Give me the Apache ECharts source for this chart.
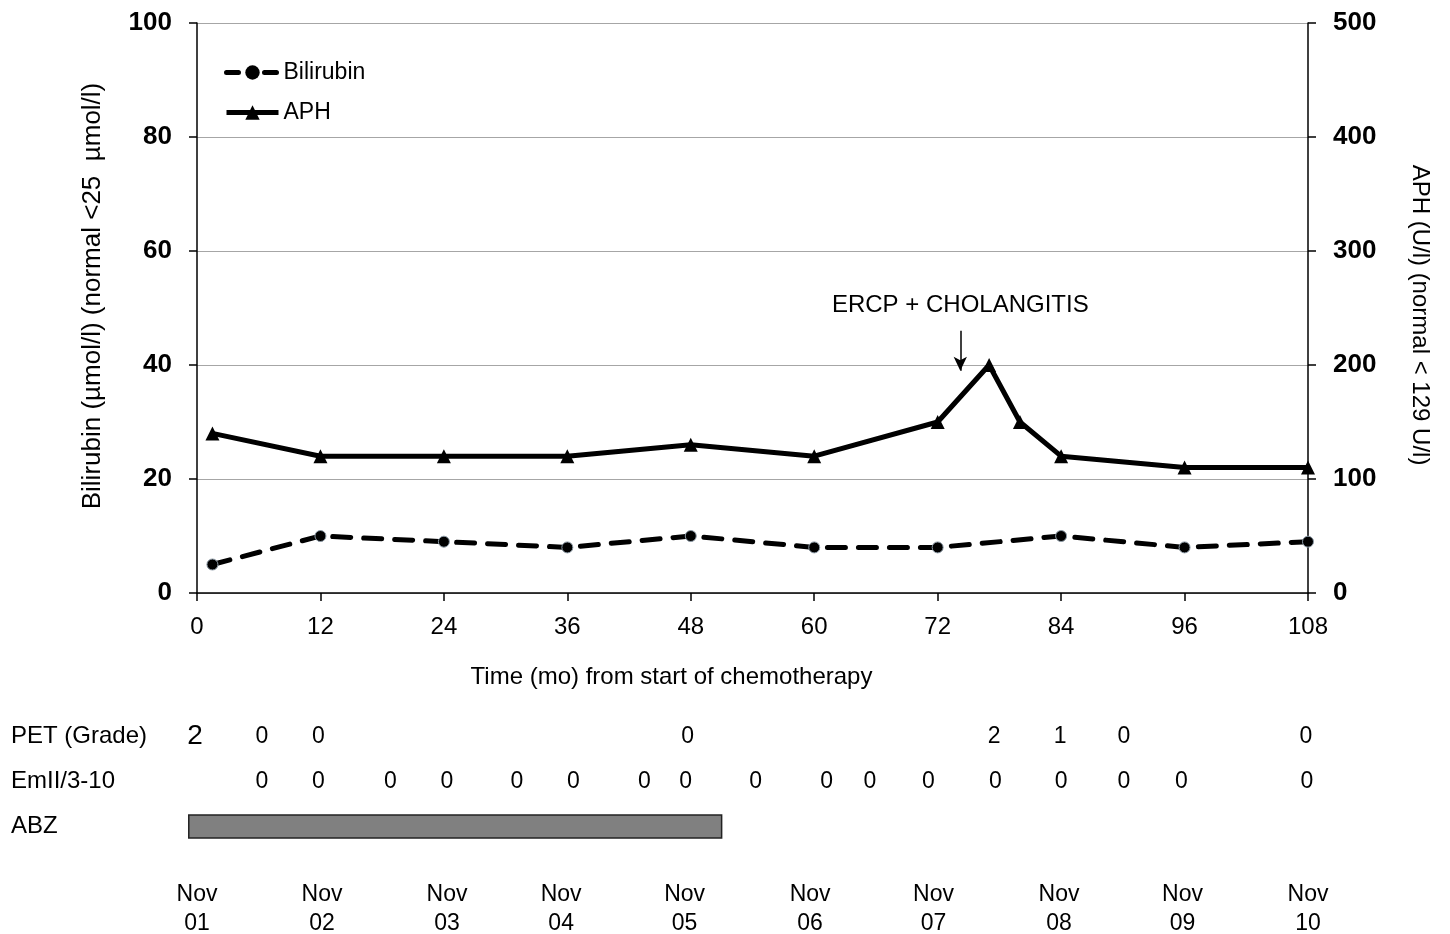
<!DOCTYPE html>
<html>
<head>
<meta charset="utf-8">
<script src="https://cdn.jsdelivr.net/npm/echarts@6/dist/echarts.min.js"></script>
<style>
  html, body { margin: 0; padding: 0; background: #fff; }
  #main { width: 1450px; height: 934px; }
</style>
</head>
<body>
<div id="main"></div>
<script>
// ---- data ----
var bilMonths = [1.5, 12, 24, 36, 48, 60, 72, 84, 96, 108];
var bilValues = [5, 10, 9, 8, 10, 8, 8, 10, 8, 9];

var aphMonths = [1.5, 12, 24, 36, 48, 60, 72, 77, 80, 84, 96, 108];
var aphValues = [140, 120, 120, 120, 130, 120, 150, 200, 150, 120, 110, 110];

var petMonths = [-0.2, 6.3, 11.8, 47.7, 77.5, 83.9, 90.1, 107.8];
var petGrades = [2, 0, 0, 0, 2, 1, 0, 0];

var emMonths = [6.3, 11.8, 18.8, 24.3, 31.1, 36.6, 43.5, 47.5, 54.3, 61.2, 65.4, 71.1, 77.6, 84.0, 90.1, 95.7, 107.9];
var emValues = [0, 0, 0, 0, 0, 0, 0, 0, 0, 0, 0, 0, 0, 0, 0, 0, 0];

var abzStart = -0.8;
var abzEnd = 51.0;

var dateMonths = [0, 12.15, 24.3, 35.4, 47.4, 59.6, 71.6, 83.8, 95.8, 108];
var dateLabels = ['Nov\n01', 'Nov\n02', 'Nov\n03', 'Nov\n04', 'Nov\n05', 'Nov\n06', 'Nov\n07', 'Nov\n08', 'Nov\n09', 'Nov\n10'];

var rowNames = ['PET (Grade)', 'EmII/3-10', 'ABZ'];

var ercpMonth = 74.2;
var ercpFrom = 46;
var ercpTo = 39;

var FONT = 'Liberation Sans, Arial, sans-serif';

function zip(xs, ys) {
  var out = [];
  for (var i = 0; i < xs.length; i++) out.push([xs[i], ys[i]]);
  return out;
}

var petData = [];
for (var i = 0; i < petMonths.length; i++) {
  var item = { value: [petMonths[i], rowNames[0], petGrades[i]] };
  if (i === 0) item.label = { fontSize: 28 }; // first grade is printed larger
  petData.push(item);
}
var emData = [];
for (var j = 0; j < emMonths.length; j++) {
  emData.push({ value: [emMonths[j], rowNames[1], emValues[j]] });
}

var rowLabel = {
  show: true,
  position: 'inside',
  fontSize: 23,
  color: '#000',
  opacity: 1,
  textBorderWidth: 0,
  fontFamily: FONT,
  formatter: function (p) { return String(p.value[2]); }
};

var myChart = echarts.init(document.getElementById('main'), null, { renderer: 'canvas' });

var option = {
  backgroundColor: '#fff',
  animation: false,
  textStyle: { fontFamily: FONT, color: '#000' },
  legend: {
    orient: 'vertical',
    left: 219,
    top: 56,
    itemGap: 17,
    itemWidth: 52,
    itemHeight: 18,
    textStyle: { fontSize: 23, color: '#000', fontFamily: FONT },
    data: [
      { name: 'Bilirubin', lineStyle: { width: 5, type: [12, 26], color: '#000' }, itemStyle: { color: '#000', borderWidth: 0 } },
      { name: 'APH', lineStyle: { width: 5, type: 'solid', color: '#000' }, itemStyle: { color: '#000' } }
    ]
  },
  grid: [
    { left: 197, right: 142, top: 23, height: 570, outerBoundsMode: 'none' },
    { left: 197, right: 142, top: 714, height: 135, outerBoundsMode: 'none' }
  ],
  xAxis: [
    {
      gridIndex: 0,
      type: 'value',
      min: 0,
      max: 108,
      interval: 12,
      name: 'Time (mo) from start of chemotherapy',
      nameLocation: 'middle',
      nameGap: 72,
      nameTextStyle: { fontSize: 24, color: '#000', padding: [0, 162, 0, 0] },
      axisLine: { lineStyle: { color: '#000', width: 1.5 } },
      axisTick: { show: true, length: 8, lineStyle: { color: '#000', width: 1.5 } },
      axisLabel: { fontSize: 24, color: '#000', margin: 22 },
      splitLine: { show: false }
    },
    {
      gridIndex: 1,
      type: 'value',
      min: 0,
      max: 108,
      axisLine: { show: false },
      axisTick: { show: false },
      splitLine: { show: false },
      axisLabel: {
        show: true,
        customValues: dateMonths,
        fontSize: 23,
        lineHeight: 29,
        color: '#000',
        margin: 31,
        formatter: function (v) {
          for (var k = 0; k < dateMonths.length; k++) {
            if (Math.abs(dateMonths[k] - v) < 0.01) return dateLabels[k];
          }
          return '';
        }
      }
    }
  ],
  yAxis: [
    {
      gridIndex: 0,
      type: 'value',
      min: 0,
      max: 100,
      interval: 20,
      name: 'Bilirubin (\u00b5mol/l) (normal <25  \u00b5mol/l)',
      nameLocation: 'middle',
      nameGap: 91,
      nameTextStyle: { fontSize: 26, color: '#000', padding: [0, 0, 0, 24] },
      axisLine: { show: true, lineStyle: { color: '#000', width: 1.5 } },
      axisTick: { show: true, length: 8, lineStyle: { color: '#000', width: 1.5 } },
      axisLabel: { fontSize: 26, fontWeight: 'bold', color: '#000', margin: 25 },
      splitLine: { show: true, lineStyle: { color: '#a6a6a6', width: 1.2 } }
    },
    {
      gridIndex: 0,
      type: 'value',
      position: 'right',
      min: 0,
      max: 500,
      interval: 100,
      name: 'APH (U/l) (normal < 129 U/l)',
      nameLocation: 'middle',
      nameGap: 100,
      nameRotate: -90,
      nameTextStyle: { fontSize: 24, color: '#000', padding: [0, 0, 0, 14] },
      axisLine: { show: true, lineStyle: { color: '#000', width: 1.5 } },
      axisTick: { show: true, length: 8, lineStyle: { color: '#000', width: 1.5 } },
      axisLabel: { fontSize: 26, fontWeight: 'bold', color: '#000', margin: 25 },
      splitLine: { show: false }
    },
    {
      gridIndex: 1,
      type: 'category',
      inverse: true,
      data: rowNames,
      axisLine: { show: false },
      axisTick: { show: false },
      axisLabel: { fontSize: 24, color: '#000', align: 'left', margin: 186 }
    }
  ],
  series: [
    {
      name: 'Bilirubin',
      type: 'line',
      xAxisIndex: 0,
      yAxisIndex: 0,
      data: zip(bilMonths, bilValues),
      symbol: 'circle',
      symbolSize: 11,
      itemStyle: { color: '#000', borderColor: '#8c9aa6', borderWidth: 1 },
      lineStyle: { color: '#000', width: 5, type: [18, 13], cap: 'round' },
      z: 3,
      markLine: {
        silent: true,
        symbol: ['none', 'arrow'],
        symbolSize: [10, 14],
        lineStyle: { color: '#000', width: 1.5, type: 'solid' },
        label: {
          show: true,
          position: 'start',
          formatter: 'ERCP + CHOLANGITIS',
          fontSize: 24,
          color: '#000',
          fontFamily: FONT,
          distance: 13
        },
        data: [[{ coord: [ercpMonth, ercpFrom] }, { coord: [ercpMonth, ercpTo] }]]
      }
    },
    {
      name: 'APH',
      type: 'line',
      xAxisIndex: 0,
      yAxisIndex: 1,
      data: zip(aphMonths, aphValues),
      symbol: 'triangle',
      symbolSize: 14,
      itemStyle: { color: '#000' },
      lineStyle: { color: '#000', width: 5 },
      z: 4
    },
    {
      name: 'PET',
      type: 'scatter',
      xAxisIndex: 1,
      yAxisIndex: 2,
      clip: false,
      symbolSize: 0,
      itemStyle: { opacity: 1 },
      data: petData,
      label: rowLabel
    },
    {
      name: 'EmII',
      type: 'scatter',
      xAxisIndex: 1,
      yAxisIndex: 2,
      clip: false,
      symbolSize: 0,
      itemStyle: { opacity: 1 },
      data: emData,
      label: rowLabel
    },
    {
      name: 'ABZ',
      type: 'custom',
      xAxisIndex: 1,
      yAxisIndex: 2,
      clip: false,
      data: [[abzStart, abzEnd, rowNames[2]]],
      renderItem: function (params, api) {
        var p0 = api.coord([api.value(0), api.value(2)]);
        var p1 = api.coord([api.value(1), api.value(2)]);
        var h = 23;
        return {
          type: 'rect',
          shape: { x: p0[0], y: p0[1] - h / 2, width: p1[0] - p0[0], height: h },
          style: { fill: '#808080', stroke: '#222', lineWidth: 1.5 }
        };
      }
    }
  ]
};

myChart.setOption(option);
window.addEventListener('resize', myChart.resize);
</script>
</body>
</html>
